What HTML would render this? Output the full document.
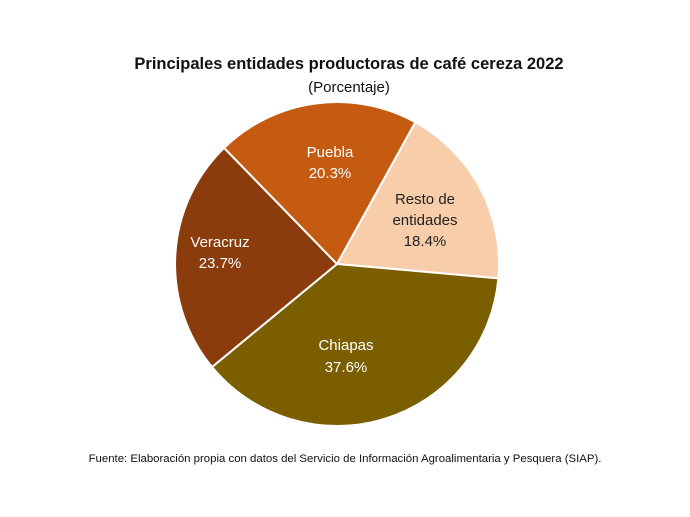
<!DOCTYPE html>
<html><head><meta charset="utf-8"><style>
html,body{margin:0;padding:0;background:#fff;}
svg{display:block;font-family:"Liberation Sans","DejaVu Sans",sans-serif;}
</style></head><body>
<svg width="690" height="517" viewBox="0 0 690 517">
<rect width="690" height="517" fill="#fff"/>
<text x="349" y="69" text-anchor="middle" font-size="16.5" font-weight="bold" fill="#111">Principales entidades productoras de café cereza 2022</text>
<text x="349" y="92" text-anchor="middle" font-size="15" fill="#111">(Porcentaje)</text>
<g stroke="#fff" stroke-width="2" stroke-linejoin="round">
<path d="M337,264 L415.3,122.2 A162,162 0 0 1 498.4,278.4 Z" fill="#f8cdaa"/>
<path d="M337,264 L498.4,278.4 A162,162 0 0 1 212.0,367.0 Z" fill="#7a5e00"/>
<path d="M337,264 L212.0,367.0 A162,162 0 0 1 224.1,147.9 Z" fill="#8b3c0c"/>
<path d="M337,264 L224.1,147.9 A162,162 0 0 1 415.3,122.2 Z" fill="#c55a11"/>
</g>
<g font-size="15" text-anchor="middle" fill="#fff">
<text x="330" y="157">Puebla</text>
<text x="330" y="178">20.3%</text>
<text x="220" y="247">Veracruz</text>
<text x="220" y="268">23.7%</text>
<text x="346" y="350">Chiapas</text>
<text x="346" y="372">37.6%</text>
</g>
<g font-size="15" text-anchor="middle" fill="#222">
<text x="425" y="204">Resto de</text>
<text x="425" y="225">entidades</text>
<text x="425" y="246">18.4%</text>
</g>
<text x="345" y="462" text-anchor="middle" font-size="11.4" fill="#111">Fuente: Elaboración propia con datos del Servicio de Información Agroalimentaria y Pesquera (SIAP).</text>
</svg>
</body></html>
